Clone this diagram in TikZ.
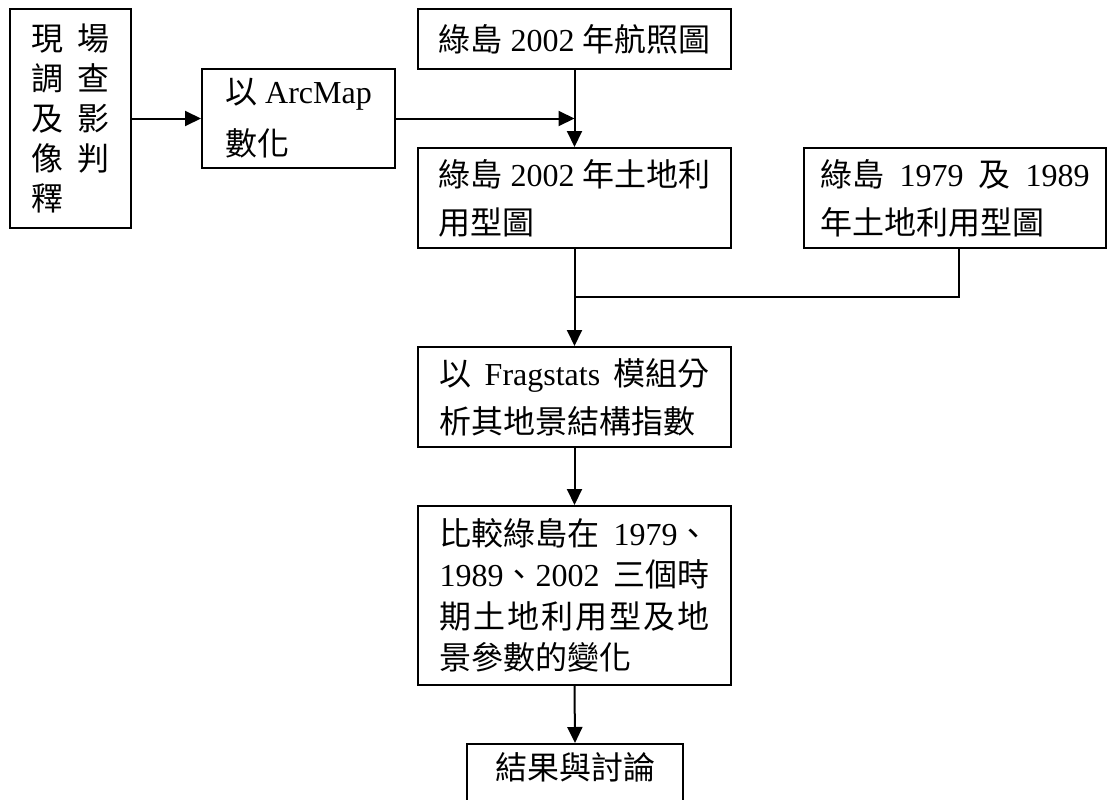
\documentclass[tikz,border=0pt]{standalone}
\usepackage{fontspec}
\setmainfont{Liberation Serif}
\newfontfamily\cjk{Noto Sans CJK TC}
\newcommand\zh[1]{{\cjk #1}}
\usetikzlibrary{arrows.meta}
\tikzset{
  box/.style={draw, line width=2pt, inner sep=0pt, align=left},
  txt/.style={font=\fontsize{32}{#1}\selectfont},
  arr/.style={line width=2pt, -{Triangle[length=16pt,width=15pt]}},
  ln/.style={line width=2pt}
}
\begin{document}
\begin{tikzpicture}[x=1pt,y=-1pt]
\useasboundingbox (0,0) rectangle (1108,800);
\clip (0,0) rectangle (1108,800);
\node[box, txt=40, minimum width=121, minimum height=219] (a) at (70.5,118.5)
  {\zh{現}\hspace{14pt}\zh{場}\\ \zh{調}\hspace{14pt}\zh{查}\\ \zh{及}\hspace{14pt}\zh{影}\\ \zh{像}\hspace{14pt}\zh{判}\\ \zh{釋}};
\node[box, txt=52, minimum width=193, minimum height=98] (b) at (298.5,118.5)
  {\zh{以} ArcMap\\ \zh{數化}};
\node[box, txt=48, minimum width=313, minimum height=60] (c) at (574.5,39)
  {\zh{綠島} 2002 \zh{年航照圖}};
\node[box, txt=48, minimum width=313, minimum height=100] (d) at (574.5,198)
  {\zh{綠島} 2002 \zh{年土地利}\\ \zh{用型圖}};
\node[box, txt=48, minimum width=302, minimum height=100] (e) at (955,198)
  {\hbox to 269pt{\zh{綠島}\hfill 1979\hfill\zh{及}\hfill 1989}\\ \zh{年土地利用型圖}};
\node[box, txt=48, minimum width=313, minimum height=100] (f) at (574.5,397)
  {\hbox to 270pt{\zh{以}\hfill Fragstats\hfill\zh{模組分}}\\ \zh{析其地景結構指數}};
\node[box, txt=41.5, minimum width=313, minimum height=179] (g) at (574.5,595.5)
  {\hbox to 270pt{\zh{比較綠島在}\hfill 1979\zh{、}}\\
   \hbox to 270pt{1989\zh{、}2002\hfill\zh{三個時}}\\
   \hbox to 270pt{\zh{期}\hfill\zh{土}\hfill\zh{地}\hfill\zh{利}\hfill\zh{用}\hfill\zh{型}\hfill\zh{及}\hfill\zh{地}}\\
   \zh{景參數的變化}};
\node[box, minimum width=216, minimum height=80, anchor=north] (h) at (575,743) {};
\node[txt=40, inner sep=0pt] (ht) at (575,767.5) {\zh{結果與討論}};
\coordinate (m) at (574.5,297);
\draw[arr] (a) -- (b);
\draw[arr] (b.east) -- (b.east -| c.south);
\draw[arr] (c.south) -- (d.north);
\draw[arr] (d.south) -- (f.north);
\draw[ln] ([xshift=4pt]e.south) |- (m);
\draw[arr] (f.south) -- (g.north);
\draw[arr] (g.south) -- (h.north);
\end{tikzpicture}
\end{document}
